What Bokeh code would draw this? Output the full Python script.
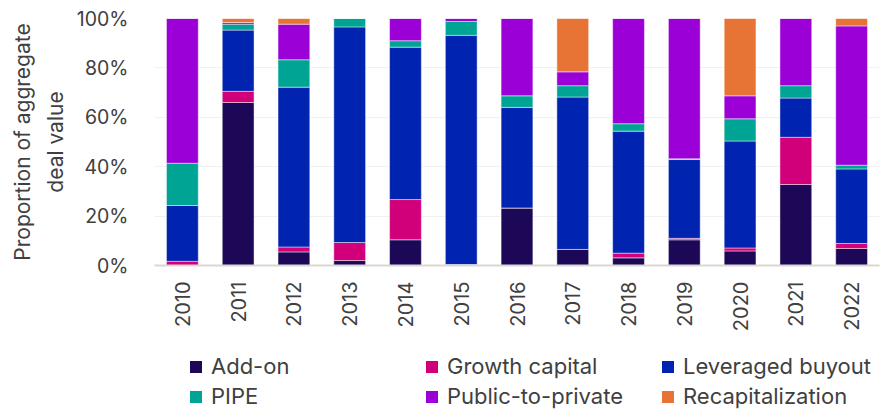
import math
from bokeh.plotting import figure
from bokeh.layouts import column
from bokeh.models import FixedTicker, PrintfTickFormatter, Legend, LegendItem, Range1d, FactorRange
from bokeh.embed import file_html
from bokeh.resources import INLINE

years = ["2010", "2011", "2012", "2013", "2014", "2015", "2016",
         "2017", "2018", "2019", "2020", "2021", "2022"]
series = ["Add-on", "Growth capital", "Leveraged buyout", "PIPE",
          "Public-to-private", "Recapitalization"]
add_on =            [0.0, 66.0, 5.5, 2.0, 10.4, 0.4, 23.3, 6.5, 3.1, 10.4, 5.9, 32.8, 6.9]
growth_capital =    [1.7, 4.5, 2.0, 7.3, 16.3, 0.0, 0.0, 0.0, 1.9, 0.6, 1.2, 19.1, 2.0]
leveraged_buyout =  [22.6, 24.8, 64.7, 87.3, 61.7, 92.8, 40.7, 61.7, 49.4, 31.9, 43.3, 15.9, 30.2]
pipe =              [17.1, 2.4, 11.1, 3.4, 2.6, 5.6, 4.7, 4.6, 3.0, 0.3, 9.0, 5.0, 1.5]
public_to_private = [58.6, 0.7, 14.4, 0.0, 9.0, 1.2, 31.3, 5.6, 42.6, 56.8, 9.3, 27.2, 56.4]
recapitalization =  [0.0, 1.6, 2.3, 0.0, 0.0, 0.0, 0.0, 21.6, 0.0, 0.0, 31.3, 0.0, 3.0]
colors = ["#1C0856", "#D1007A", "#0024AF", "#00A494", "#9B00D6", "#E77435"]
y_ticks = [0, 20, 40, 60, 80, 100]

FONT = "Inter"
TXT = "#404040"

data = {"year": years, "Add-on": add_on, "Growth capital": growth_capital,
        "Leveraged buyout": leveraged_buyout, "PIPE": pipe,
        "Public-to-private": public_to_private, "Recapitalization": recapitalization}

xr = FactorRange(*years)
xr.range_padding = 0

p = figure(x_range=xr, y_range=Range1d(0, 100),
           width=885, height=340, output_backend="svg", toolbar_location=None,
           min_border_left=154, min_border_right=6, min_border_top=18, min_border_bottom=75)

p.vbar_stack(series, x="year", width=0.57, source=data, color=colors,
             line_color="white", line_alpha=0.45, line_width=1)

p.outline_line_color = None
p.xgrid.grid_line_color = None
p.ygrid.grid_line_color = "#f1f1f1"
p.ygrid.grid_line_width = 1
p.ygrid.ticker = FixedTicker(ticks=y_ticks)

p.yaxis.ticker = FixedTicker(ticks=y_ticks)
p.yaxis.formatter = PrintfTickFormatter(format="%d%%")
p.yaxis.axis_line_color = None
p.yaxis.major_tick_line_color = None
p.yaxis.minor_tick_line_color = None
p.yaxis.major_tick_out = 0
p.yaxis.major_label_standoff = 26
p.yaxis.major_label_text_font = FONT
p.yaxis.major_label_text_font_size = "19.5px"
p.yaxis.major_label_text_color = TXT
p.yaxis.axis_label = "Proportion of aggregate\ndeal value"
p.yaxis.axis_label_text_font = FONT
p.yaxis.axis_label_text_font_size = "21px"
p.yaxis.axis_label_text_font_style = "normal"
p.yaxis.axis_label_text_color = TXT
p.yaxis.axis_label_text_line_height = 1.3
p.yaxis.axis_label_standoff = 6

p.xaxis.axis_line_color = "#dcd7d2"
p.xaxis.axis_line_width = 2
p.xaxis.major_tick_line_color = None
p.xaxis.minor_tick_line_color = None
p.xaxis.major_tick_out = 0
p.xaxis.major_label_orientation = math.pi / 2
p.xaxis.major_label_standoff = 16
p.xaxis.major_label_text_font = FONT
p.xaxis.major_label_text_font_size = "20px"
p.xaxis.major_label_text_color = TXT

# legend lives in its own strip below the chart; its swatch renderers are hidden
lg = figure(x_range=xr, y_range=Range1d(-2, -1), width=885, height=70,
            output_backend="svg", toolbar_location=None,
            min_border_left=154, min_border_right=6, min_border_top=0, min_border_bottom=0)
lg.axis.visible = False
lg.grid.grid_line_color = None
lg.outline_line_color = None
swatches = lg.vbar_stack(series, x="year", width=0.57, source=data, color=colors, line_color=None)
for r in swatches:
    r.visible = False

items = [LegendItem(label=s, renderers=[r]) for s, r in zip(series, swatches)]
legend = Legend(items=items, location=(34, 1), orientation="horizontal", ncols=3,
                glyph_width=15, glyph_height=15, label_standoff=8, label_width=209,
                label_height=20, spacing=4, padding=0, margin=0,
                border_line_color=None, background_fill_alpha=0,
                inactive_fill_alpha=0, click_policy="none",
                label_text_font=FONT, label_text_font_size="22px", label_text_color=TXT)
lg.add_layout(legend, "center")

layout = column(p, lg, spacing=0)
open("out.html", "w").write(file_html(layout, INLINE))
